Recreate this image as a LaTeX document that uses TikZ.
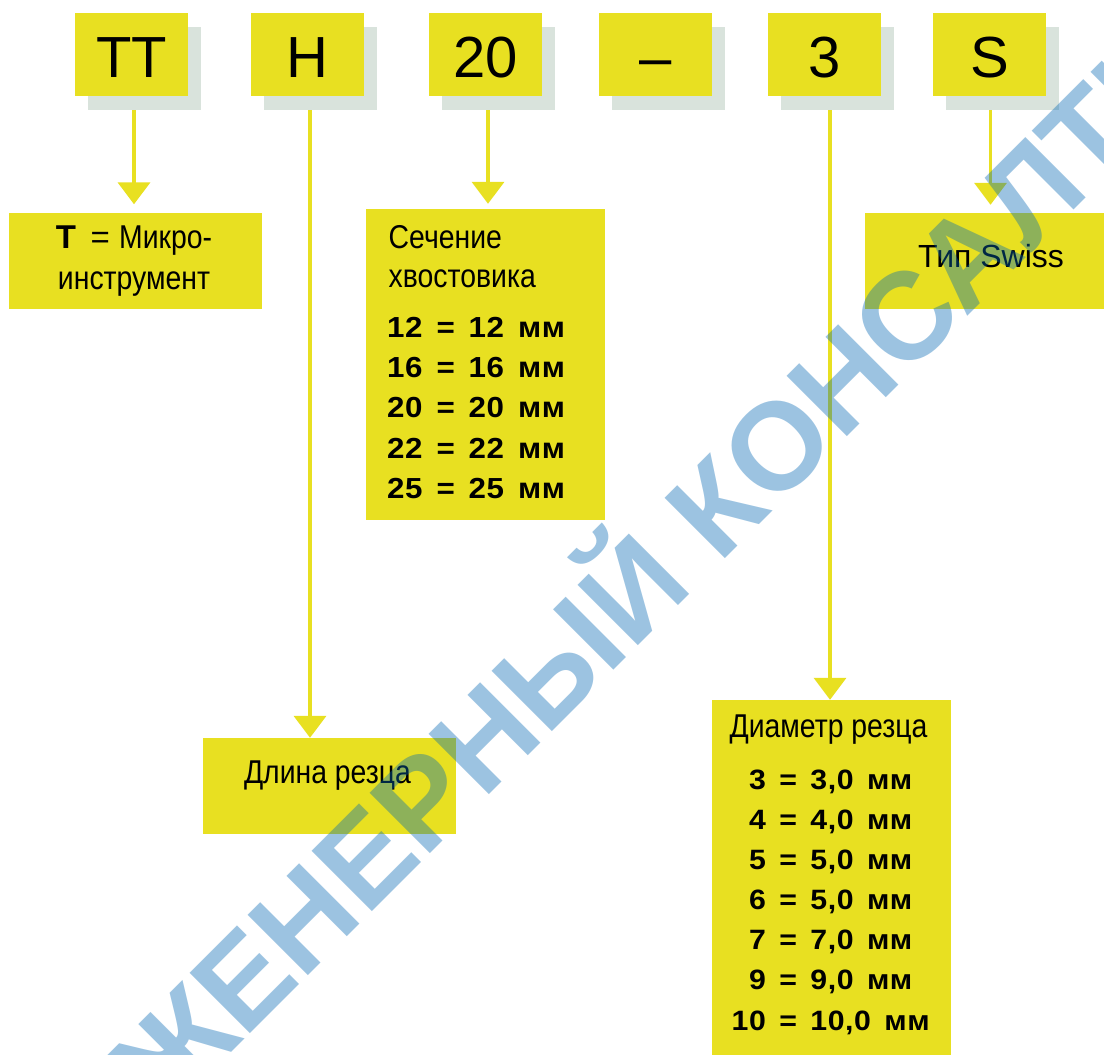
\documentclass[tikz,border=0pt]{standalone}
\usepackage{fontspec}
\setmainfont{Liberation Sans}
\newfontfamily\narrowf[FakeStretch=0.86]{Liberation Sans}
\newfontfamily\rowf[FakeStretch=1.08,LetterSpace=2,WordSpace=1.5]{Liberation Sans}
\newfontfamily\wmf{Liberation Sans}
\usetikzlibrary{arrows.meta,shadows}
\definecolor{yel}{RGB}{232,224,33}
\definecolor{shd}{RGB}{217,227,220}
\definecolor{wm}{RGB}{0,103,180}
\newlength\numw
\newcommand\dnum[1]{\settowidth\numw{10}\makebox[\numw][r]{#1}}
\begin{document}
\begin{tikzpicture}[x=1pt,y=-1pt,
  topbox/.style={fill=yel, minimum width=113pt, minimum height=83pt, inner sep=0pt,
    text height=45.6pt, text depth=0pt, font=\fontsize{58}{58}\selectfont,
    drop shadow={shadow xshift=13pt, shadow yshift=-14pt, fill=shd, opacity=1}},
  infobox/.style={fill=yel, inner sep=0pt},
  conn/.style={draw=yel, line width=3.7pt, -{Triangle[width=32pt,length=22pt]}},
  lbl/.style={inner sep=0pt, anchor=base},
  lblw/.style={inner sep=0pt, anchor=base west},
  narrowtxt/.style={font=\narrowf\fontsize{33}{33}\selectfont},
  rowtxt/.style={font=\rowf\bfseries\fontsize{29}{29}\selectfont},
  drowtxt/.style={font=\rowf\bfseries\fontsize{28}{28}\selectfont},
]
\useasboundingbox (0,0) rectangle (1104,1055);
\fill[white] (0,0) rectangle (1104,1055);

% top code boxes
\node[topbox] (TT) at (131.5,54.5) {TT};
\node[topbox] (H)  at (307.5,54.5) {H};
\node[topbox] (N20) at (485.5,54.5) {20};
\node[topbox] (D)  at (655.5,54.5) {–};
\node[topbox] (N3) at (824.5,54.5) {3};
\node[topbox] (S)  at (989.5,54.5) {S};

% info boxes
\node[infobox, minimum width=253pt, minimum height=96pt] (Tb) at (135.5,261) {};
\node[infobox, minimum width=239pt, minimum height=311pt] (Sec) at (485.5,364.5) {};
\node[infobox, minimum width=253pt, minimum height=96pt] (Len) at (329.5,786) {};
\node[infobox, minimum width=239pt, minimum height=356pt] (Dia) at (831.5,878) {};
\node[infobox, minimum width=239pt, minimum height=96pt] (Sw) at (984.5,261) {};

% texts
\node[lbl] (t1) at (134,248) {\fontsize{33}{33}\selectfont\bfseries Т\,\mdseries\ =\ {\narrowf Микро-}};
\node[lbl, narrowtxt] (t2) at (134,289) {инструмент};

\node[lblw, narrowtxt] (s1) at (388.5,248) {Сечение};
\node[lblw, narrowtxt] (s2) at (388.5,287) {хвостовика};
\node[lblw, rowtxt] (r1) at (387,337.3) {12 = 12 мм};
\node[lblw, rowtxt] (r2) at (387,377.6) {16 = 16 мм};
\node[lblw, rowtxt] (r3) at (387,417.8) {20 = 20 мм};
\node[lblw, rowtxt] (r4) at (387,458.1) {22 = 22 мм};
\node[lblw, rowtxt] (r5) at (387,498.3) {25 = 25 мм};

\node[lbl, narrowtxt] (l1) at (327.5,783) {Длина резца};

\node[lbl, narrowtxt] (d0) at (828.5,737) {Диаметр резца};
\node[lblw, drowtxt] (d1) at (731.5,789) {\dnum{3} = 3,0 мм};
\node[lblw, drowtxt] (d2) at (731.5,829) {\dnum{4} = 4,0 мм};
\node[lblw, drowtxt] (d3) at (731.5,869) {\dnum{5} = 5,0 мм};
\node[lblw, drowtxt] (d4) at (731.5,909) {\dnum{6} = 5,0 мм};
\node[lblw, drowtxt] (d5) at (731.5,949) {\dnum{7} = 7,0 мм};
\node[lblw, drowtxt] (d6) at (731.5,989) {\dnum{9} = 9,0 мм};
\node[lblw, drowtxt] (d7) at (731.5,1030) {\dnum{10} = 10,0 мм};

\node[lbl, font=\fontsize{32}{32}\selectfont] (w1) at (991,267) {Тип Swiss};

% connectors
\draw[conn, shorten >=8.5pt] ([xshift=2.5pt,yshift=-14pt]TT.south) -- ([xshift=2.5pt]TT.south |- Tb.north);
\draw[conn] ([xshift=2.5pt,yshift=-14pt]H.south) -- ([xshift=2.5pt]H.south |- Len.north);
\draw[conn, shorten >=5pt] ([xshift=2.5pt,yshift=-14pt]N20.south) -- ([xshift=2.5pt]N20.south |- Sec.north);
\draw[conn] ([xshift=5.5pt,yshift=-14pt]N3.south) -- ([xshift=5.5pt]N3.south |- Dia.north);
\draw[conn, shorten >=8pt] ([xshift=1pt,yshift=-14pt]S.south) -- ([xshift=1pt]S.south |- Sw.north);

% watermark
\begin{scope}
\clip (0,0) rectangle (1104,1055);
\node[inner sep=0pt, anchor=base, rotate=45, text=wm, opacity=0.39,
  font=\wmf\bfseries\fontsize{124}{124}\selectfont] (wmk) at (680,604) {ИНЖЕНЕРНЫЙ КОНСАЛТИНГ};
\end{scope}
\end{tikzpicture}
\end{document}
